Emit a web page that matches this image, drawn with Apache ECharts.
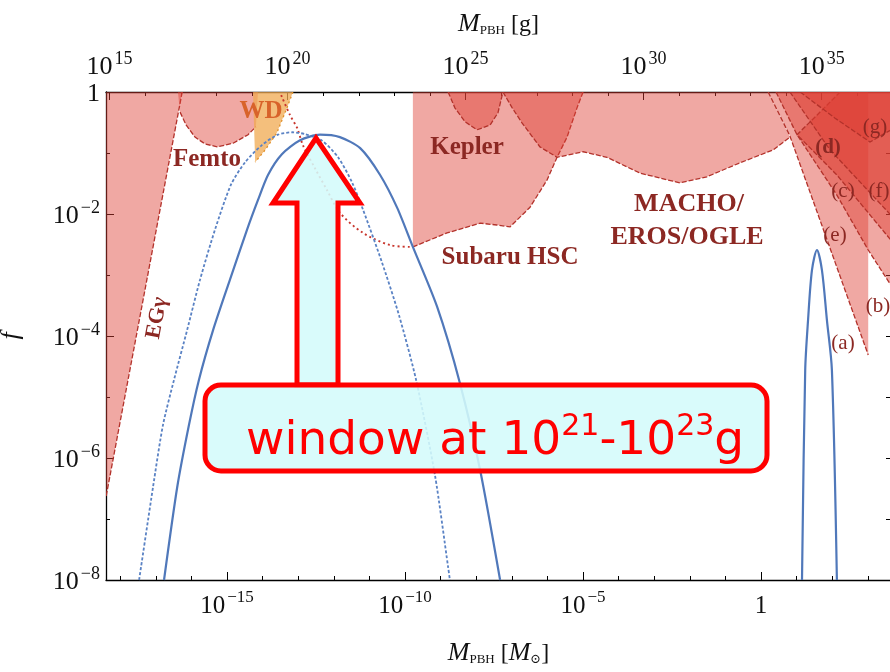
<!DOCTYPE html>
<html><head><meta charset="utf-8">
<script src="https://cdn.jsdelivr.net/npm/echarts@6/dist/echarts.min.js"></script>
<style>html,body{margin:0;padding:0;background:#fff}#c{width:890px;height:672px}</style>
</head><body><div id="c"></div>
<script>
// ---- axis ranges: x = log10(M/Msun), y = log10 f ----
const X_MIN = -18.4, X_MAX = 3.65, Y_MIN = -8, Y_MAX = 0;
const LOG_MSUN_G = 33.2986;            // log10 of the solar mass in grams
const bottomMajor = [-15, -10, -5, 0];
const topMajor = [15, 20, 25, 30, 35];
const yMajor = [-8, -6, -4, -2, 0];

// ---- PBH mass functions (blue) ----
const solidPBH = [[-16.77,-8.0],[-16.40,-6.48],[-16.07,-5.46],[-15.79,-4.72],[-15.39,-3.90],[-14.92,-3.08],[-14.44,-2.26],[-14.13,-1.77],[-13.85,-1.36],[-13.46,-1.02],[-12.95,-0.79],[-12.39,-0.70],[-11.83,-0.74],[-11.26,-0.92],[-10.70,-1.36],[-10.22,-1.90],[-9.78,-2.54],[-9.10,-3.52],[-8.46,-4.77],[-7.89,-6.20],[-7.33,-8.0]];
const dottedPBH = [[-17.47,-8.0],[-17.08,-6.48],[-16.80,-5.46],[-16.49,-4.72],[-16.12,-3.90],[-15.76,-3.08],[-15.34,-2.26],[-14.89,-1.52],[-14.49,-1.15],[-14.02,-0.87],[-13.57,-0.70],[-13.17,-0.66],[-12.81,-0.69],[-12.33,-0.80],[-11.88,-1.07],[-11.49,-1.48],[-11.18,-1.93],[-10.65,-2.79],[-10.17,-3.66],[-9.69,-4.72],[-9.16,-6.28],[-8.79,-7.79],[-8.74,-8.0]];
const stellarPBH = [[1.15,-8.0],[1.24,-4.56],[1.32,-3.74],[1.43,-2.92],[1.57,-2.59],[1.71,-2.92],[1.85,-3.74],[1.99,-4.56],[2.13,-8.0]];

// ---- constraint boundaries ----
const egBound = [[-16.26,0],[-18.4,-6.64]];
const femtoBound = [[-16.38,0],[-16.32,-0.33],[-16.15,-0.54],[-15.90,-0.74],[-15.62,-0.85],[-15.28,-0.90],[-14.83,-0.84],[-14.41,-0.70],[-14.19,-0.57],[-14.13,0]];
const wdBound = [[-13.15,0],[-13.31,-0.25],[-13.60,-0.67],[-13.93,-0.95],[-14.21,-1.15]];
const wdLeft = [[-14.27,0]];
const hscWave = [[-13.48,-0.05],[-13.23,-0.38],[-13.03,-0.59],[-12.87,-0.87],[-12.53,-1.25],[-12.19,-1.61],[-11.83,-1.98],[-11.18,-2.31],[-10.42,-2.51],[-9.78,-2.54]];
const hscBound = [[-5.0,0],[-5.17,-0.26],[-5.45,-0.74],[-5.73,-1.07],[-6.01,-1.44],[-6.49,-1.89],[-7.05,-2.21],[-7.42,-2.18],[-7.89,-2.15],[-8.82,-2.31],[-9.78,-2.54]];
const hscLeft = [[-9.78,0]];
const keplerBound = [[-8.79,0],[-8.60,-0.26],[-8.31,-0.49],[-7.98,-0.62],[-7.61,-0.54],[-7.39,-0.34],[-7.25,0]];
const machoBound = [[-7.25,0],[-6.99,-0.26],[-6.71,-0.51],[-6.21,-0.90],[-5.73,-1.07],[-5.00,-0.98],[-4.33,-1.07],[-3.40,-1.33],[-2.28,-1.49],[-1.52,-1.39],[-0.59,-1.16],[0.34,-0.95],[0.81,-0.74],[0.20,0]];
const aBound = [[0.20,0],[0.81,-0.72],[3.01,-4.31]];
const aRight = [[3.01,0]];
const bBound = [[0.42,0],[1.01,-0.70],[2.13,-1.69],[3.01,-2.59],[3.65,-3.17]];
const dBound = [[2.22,0],[1.57,-0.38],[1.01,-0.70],[2.13,-1.36],[3.65,-2.43]];
const cBound = [[0.81,0],[1.94,-0.95],[3.65,-2.02]];
const gBound = [[1.10,0],[2.08,-0.43],[3.06,-0.82],[3.65,-0.62]];

const decadesM = []; for (let v = -18; v <= 3; v++) decadesM.push(v);
const decadesG = []; for (let v = 15; v <= 36; v++) decadesG.push(v);

const RED_FILL = 'rgba(222,62,52,0.45)';
const RED_LINE = '#b3322b';
const TXT = '#8c2823';
const SERIF = '"Liberation Serif","DejaVu Serif",serif';

function region(poly, stroke, fill, dash, z) {
  return {
    type: 'custom', coordinateSystem: 'cartesian2d', xAxisIndex: 0, yAxisIndex: 0,
    data: [[X_MIN, Y_MIN]], silent: true, z: z || 2, clip: true,
    renderItem: function (params, api) {
      const children = [{ type: 'polygon', shape: { points: poly.map(p => api.coord(p)) }, style: { fill: fill, stroke: 'none' } }];
      if (stroke) children.push({ type: 'polyline', shape: { points: stroke.map(p => api.coord(p)) },
        style: { fill: 'none', stroke: dash === 'orange' ? '#e0902a' : RED_LINE, lineWidth: 1.3, lineDash: dash === 'orange' ? [2, 3] : (dash || [5, 2]) } });
      return { type: 'group', children: children };
    }
  };
}
function curve(data, color, width, type, smooth) {
  return { type: 'line', data: data, xAxisIndex: 0, yAxisIndex: 0, showSymbol: false, symbol: 'none', smooth: smooth, silent: true, z: 5,
    lineStyle: { color: color, width: width, type: type } };
}
function powLabel(v) {
  if (v === 0) return '{b|1}';
  return '{b|10}{s|' + (v < 0 ? '\u2212' + (-v) : v) + '}';
}
const tickRich = {
  b: { fontFamily: SERIF, fontSize: 25, color: '#111', lineHeight: 30, verticalAlign: 'bottom' },
  s: { fontFamily: SERIF, fontSize: 17, color: '#111', lineHeight: 30, verticalAlign: 'top', padding: [0, 0, 0, 2] }
};
const tickRichBig = {
  b: { fontFamily: SERIF, fontSize: 26, color: '#111', lineHeight: 30, verticalAlign: 'bottom' },
  s: { fontFamily: SERIF, fontSize: 18, color: '#111', lineHeight: 30, verticalAlign: 'top', padding: [0, 0, 0, 2] }
};
const nameRich = {
  i: { fontFamily: SERIF, fontStyle: 'italic', fontSize: 26, color: '#111', lineHeight: 30, verticalAlign: 'bottom' },
  sub: { fontFamily: SERIF, fontSize: 13, color: '#111', lineHeight: 30, verticalAlign: 'bottom' },
  t: { fontFamily: SERIF, fontSize: 24, color: '#111', lineHeight: 30, verticalAlign: 'bottom' }
};
const axLine = { show: true, onZero: false, lineStyle: { color: '#000', width: 1.3 } };

const chart = echarts.init(document.getElementById('c'), null, { renderer: 'canvas' });
const option = {
  animation: false,
  backgroundColor: '#fff',
  grid: { left: 106, top: 92, width: 785, height: 488, containLabel: false, outerBoundsMode: 'none' },
  xAxis: [
    { type: 'value', position: 'bottom', min: X_MIN, max: X_MAX, axisLine: axLine, splitLine: { show: false },
      axisTick: { show: true, inside: true, length: 4, customValues: decadesM, lineStyle: { color: '#000' } },
      axisLabel: { customValues: bottomMajor, formatter: powLabel, rich: tickRich, margin: 9 },
      name: '{i|M}{sub|PBH}{t| [}{i|M}{sub|\u2299}{t|]}', nameLocation: 'middle', nameGap: 56, nameTextStyle: { rich: nameRich } },
    { type: 'value', position: 'bottom', min: X_MIN, max: X_MAX, axisLine: { show: false, onZero: false }, splitLine: { show: false },
      axisTick: { show: true, inside: true, length: 8, customValues: bottomMajor, lineStyle: { color: '#000' } }, axisLabel: { show: false } },
    { type: 'value', position: 'top', min: X_MIN + LOG_MSUN_G, max: X_MAX + LOG_MSUN_G, axisLine: axLine, splitLine: { show: false },
      axisTick: { show: true, inside: true, length: 4, customValues: decadesG, lineStyle: { color: '#000' } },
      axisLabel: { customValues: topMajor, formatter: powLabel, rich: tickRichBig, margin: 12 },
      name: '{i|M}{sub|PBH}{t| [g]}', nameLocation: 'middle', nameGap: 55, nameTextStyle: { rich: nameRich } },
    { type: 'value', position: 'top', min: X_MIN + LOG_MSUN_G, max: X_MAX + LOG_MSUN_G, axisLine: { show: false, onZero: false }, splitLine: { show: false },
      axisTick: { show: true, inside: true, length: 8, customValues: topMajor, lineStyle: { color: '#000' } }, axisLabel: { show: false } }
  ],
  yAxis: [
    { type: 'value', position: 'left', min: Y_MIN, max: Y_MAX, interval: 1, axisLine: axLine, splitLine: { show: false },
      axisTick: { show: true, inside: true, length: 4, lineStyle: { color: '#000' } },
      axisLabel: { customValues: yMajor, formatter: powLabel, rich: tickRichBig, margin: 6 },
      name: '{i|f}', nameLocation: 'middle', nameGap: 82, nameRotate: 90, nameTextStyle: { rich: nameRich } },
    { type: 'value', position: 'left', min: Y_MIN, max: Y_MAX, interval: 1, axisLine: { show: false, onZero: false }, splitLine: { show: false },
      axisTick: { show: true, inside: true, length: 8, customValues: yMajor, lineStyle: { color: '#000' } }, axisLabel: { show: false } },
    { type: 'value', position: 'right', min: Y_MIN, max: Y_MAX, interval: 1, axisLine: axLine, splitLine: { show: false },
      axisTick: { show: true, inside: true, length: 5, lineStyle: { color: '#000' } }, axisLabel: { show: false } }
  ],
  series: [
    region(egBound.concat([[X_MIN, Y_MAX]]), egBound, RED_FILL),
    region(femtoBound, femtoBound.slice(1, -1), RED_FILL),
    region(wdBound.concat(wdLeft), wdBound, 'rgba(240,170,80,0.75)', 'orange', 3),
    region(hscBound.concat(hscLeft), hscBound, RED_FILL),
    region(keplerBound, keplerBound, RED_FILL),
    region(machoBound, machoBound.slice(0, -1), RED_FILL),
    region(aBound.concat(aRight), aBound, RED_FILL),
    region(bBound.concat([[X_MAX, Y_MAX]]), bBound, RED_FILL),
    region(dBound.concat([[X_MAX, Y_MAX]]), dBound, RED_FILL),
    region(cBound.concat([[X_MAX, Y_MAX]]), cBound, RED_FILL),
    region(gBound.concat([[X_MAX, Y_MAX]]), gBound, RED_FILL),
    { type: 'line', data: hscWave, showSymbol: false, symbol: 'none', smooth: 0.3, silent: true, z: 4,
      lineStyle: { color: '#c8352c', width: 1.9, type: [2, 3] } },
    curve(dottedPBH, '#5a82c4', 1.8, [3, 2], 0.25),
    curve(solidPBH, '#5078ba', 2.2, 'solid', 0.25),
    curve(stellarPBH, '#5078ba', 2.2, 'solid', 0.3)
  ],
  graphic: [
    { type: 'text', x: 207, y: 160, style: { text: 'Femto', font: 'bold 25px ' + SERIF, fill: TXT, align: 'center', verticalAlign: 'middle' }, z: 10 },
    { type: 'text', x: 261, y: 112, style: { text: 'WD', font: 'bold 25px ' + SERIF, fill: '#d8632a', align: 'center', verticalAlign: 'middle' }, z: 10 },
    { type: 'text', x: 467, y: 148, style: { text: 'Kepler', font: 'bold 25px ' + SERIF, fill: TXT, align: 'center', verticalAlign: 'middle' }, z: 10 },
    { type: 'text', x: 510, y: 258, style: { text: 'Subaru HSC', font: 'bold 25px ' + SERIF, fill: TXT, align: 'center', verticalAlign: 'middle' }, z: 10 },
    { type: 'text', x: 689, y: 204, style: { text: 'MACHO/', font: 'bold 26px ' + SERIF, fill: TXT, align: 'center', verticalAlign: 'middle' }, z: 10 },
    { type: 'text', x: 687, y: 237, style: { text: 'EROS/OGLE', font: 'bold 26px ' + SERIF, fill: TXT, align: 'center', verticalAlign: 'middle' }, z: 10 },
    { type: 'text', x: 157, y: 318, rotation: 1.386, style: { text: 'EG\u03b3', font: 'bold 22px ' + SERIF, fill: TXT, align: 'center', verticalAlign: 'middle' }, z: 10 },
    { type: 'text', x: 875, y: 127, style: { text: '(g)', font: '21px ' + SERIF, fill: TXT, align: 'center', verticalAlign: 'middle' }, z: 10 },
    { type: 'text', x: 828, y: 148, style: { text: '(d)', font: 'bold 21px ' + SERIF, fill: TXT, align: 'center', verticalAlign: 'middle' }, z: 10 },
    { type: 'text', x: 843, y: 191, style: { text: '(c)', font: '21px ' + SERIF, fill: TXT, align: 'center', verticalAlign: 'middle' }, z: 10 },
    { type: 'text', x: 879, y: 191, style: { text: '(f)', font: '21px ' + SERIF, fill: TXT, align: 'center', verticalAlign: 'middle' }, z: 10 },
    { type: 'text', x: 835, y: 235, style: { text: '(e)', font: '21px ' + SERIF, fill: TXT, align: 'center', verticalAlign: 'middle' }, z: 10 },
    { type: 'text', x: 878, y: 306, style: { text: '(b)', font: '21px ' + SERIF, fill: TXT, align: 'center', verticalAlign: 'middle' }, z: 10 },
    { type: 'text', x: 843, y: 343, style: { text: '(a)', font: '21px ' + SERIF, fill: TXT, align: 'center', verticalAlign: 'middle' }, z: 10 },
    // annotation arrow + box
    { type: 'polygon', z: 100, shape: { points: [[297, 385], [297, 203], [273, 203], [316, 138], [360, 203], [338, 203], [338, 385]] },
      style: { fill: 'rgba(212,251,251,0.88)', stroke: '#ff0000', lineWidth: 5, lineJoin: 'miter' } },
    { type: 'rect', z: 101, shape: { x: 205, y: 385, width: 562, height: 86, r: 16 },
      style: { fill: 'rgba(212,251,251,0.88)', stroke: '#ff0000', lineWidth: 5 } },
    { type: 'text', z: 102, x: 246, y: 437, style: {
        text: '{m|window at 10}{s|21}{m|-10}{s|23}{m|g}', align: 'left', verticalAlign: 'middle',
        rich: { m: { fontFamily: '"DejaVu Sans",sans-serif', fontSize: 47, fill: '#ff0000', color: '#ff0000', lineHeight: 56, verticalAlign: 'bottom' },
                s: { fontFamily: '"DejaVu Sans",sans-serif', fontSize: 30, fill: '#ff0000', color: '#ff0000', lineHeight: 56, verticalAlign: 'top', padding: [3, 0, 0, 0] } } } }
  ]
};
chart.setOption(option);
</script>
</body></html>
